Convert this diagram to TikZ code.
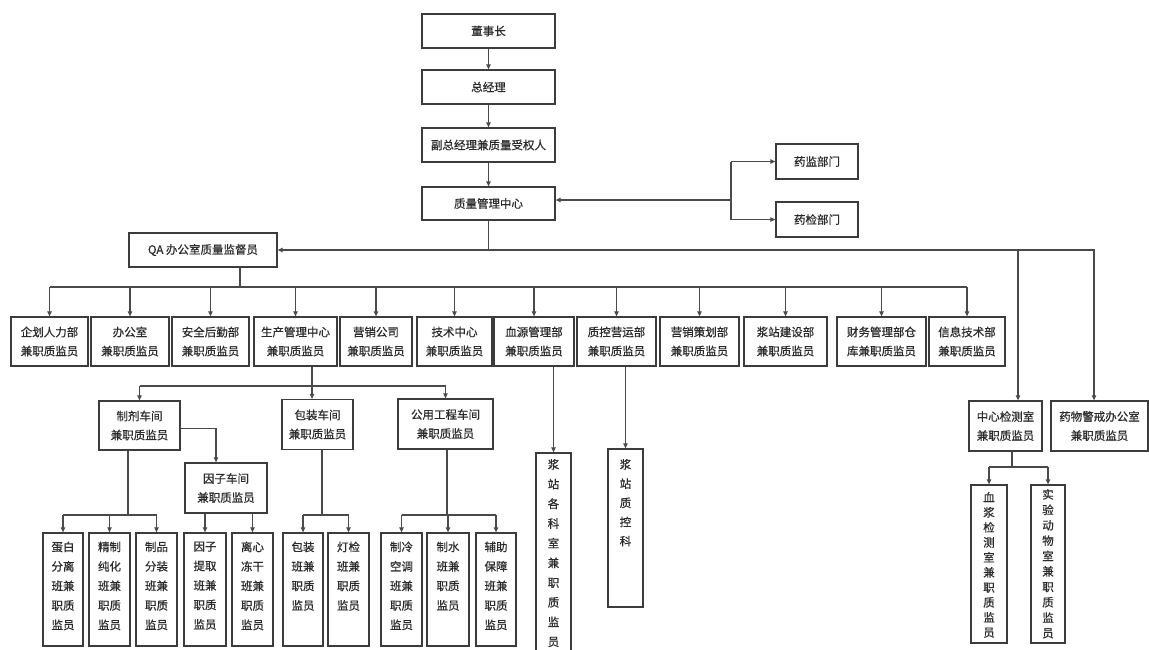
\documentclass[tikz,border=0pt]{standalone}
\usepackage{fontspec}
\newfontfamily\cjk[FakeBold=0.5]{Noto Sans CJK SC}
\usetikzlibrary{arrows.meta,calc}
\definecolor{boxc}{HTML}{3C3C3C}
\definecolor{linec}{HTML}{4A4A4A}
\definecolor{txt}{HTML}{2A2A2A}
\begin{document}
\begin{tikzpicture}[x=1pt,y=-1pt,
  box/.style={draw=boxc, line width=1.3pt, fill=white, inner sep=0pt, align=center, text=txt,
    font=\cjk\fontsize{11.5}{19}\selectfont},
  vtxt/.style={inner sep=0pt, align=center, anchor=north, text=txt},
  conn/.style={draw=linec, line width=1.1pt},
  arr/.style={conn, -{Triangle[length=5pt,width=4.5pt]}}]
\useasboundingbox (0,0) rectangle (1149,649);
\clip (0,0) rectangle (1149,649);
\fill[white] (0,0) rectangle (1149,649);

% top chain
\node[box,minimum width=133pt,minimum height=34pt] (dsz) at (488.5,31) {董事长};
\node[box,minimum width=133pt,minimum height=34pt] (zjl) at (488.5,87) {总经理};
\node[box,minimum width=133pt,minimum height=34pt] (fz) at (488.5,145) {副总经理兼质量受权人};
\node[box,minimum width=133pt,minimum height=33pt] (zl) at (488.5,203.5) {质量管理中心};
\node[box,minimum width=82pt,minimum height=35pt] (yj) at (817,161.5) {药监部门};
\node[box,minimum width=82pt,minimum height=35pt] (yjj) at (817,219.5) {药检部门};
\node[box,minimum width=148pt,minimum height=34pt] (qa) at (203,250) {QA 办公室质量监督员};

\draw[arr] (dsz) -- (zjl);
\draw[arr] (zjl) -- (fz);
\draw[arr] (fz) -- (zl);
\coordinate (j1) at (731,200);
\draw[arr] (j1) -- (j1 -| zl.east);
\draw[conn] (j1 |- yj.west) -- (j1 |- yjj.west);
\draw[arr] (j1 |- yj.west) -- (yj.west);
\draw[arr] (j1 |- yjj.west) -- (yjj.west);

% row 1
\node[box,minimum width=77pt,minimum height=49pt] (qh) at (49.5,341.5) {企划人力部\\兼职质监员};
\node[box,minimum width=78pt,minimum height=49pt] (bgs) at (130,341.5) {办公室\\兼职质监员};
\node[box,minimum width=77pt,minimum height=49pt] (aq) at (210.5,341.5) {安全后勤部\\兼职质监员};
\node[box,minimum width=83pt,minimum height=49pt] (sc) at (295.5,341.5) {生产管理中心\\兼职质监员};
\node[box,minimum width=72pt,minimum height=49pt] (yx) at (376,341.5) {营销公司\\兼职质监员};
\node[box,minimum width=75pt,minimum height=49pt] (js) at (454.5,341.5) {技术中心\\兼职质监员};
\node[box,minimum width=80pt,minimum height=49pt] (xy) at (534,341.5) {血源管理部\\兼职质监员};
\node[box,minimum width=79pt,minimum height=49pt] (zk) at (616.5,341.5) {质控营运部\\兼职质监员};
\node[box,minimum width=79pt,minimum height=49pt] (ych) at (699.5,341.5) {营销策划部\\兼职质监员};
\node[box,minimum width=83pt,minimum height=49pt] (jzj) at (785.5,341.5) {浆站建设部\\兼职质监员};
\node[box,minimum width=89pt,minimum height=49pt] (cw) at (881.5,341.5) {财务管理部仓\\库兼职质监员};
\node[box,minimum width=76pt,minimum height=49pt] (xx) at (967,341.5) {信息技术部\\兼职质监员};

\node[box,minimum width=73pt,minimum height=50pt] (zx) at (1005.5,426) {中心检测室\\兼职质监员};
\node[box,minimum width=97pt,minimum height=50pt] (ywj) at (1099.5,426) {药物警戒办公室\\兼职质监员};

% top bus
\coordinate (b1) at (488.5,250);
\coordinate (tzx) at (1018,250);
\coordinate (tyw) at (1094,250);
\draw[conn] (zl.south) -- (b1);
\draw[arr] (b1) -- (qa.east);
\draw[arr] (b1) -- (tyw) -- (tyw |- ywj.north);
\draw[arr] (tzx) -- (tzx |- zx.north);

% second bus
\coordinate (q1) at (240,287);
\draw[conn] (q1 |- qa.south) -- (q1);
\draw[conn] (qh.north |- q1) -- (xx.north |- q1);
\foreach \n in {qh,bgs,aq,sc,yx,js,xy,zk,ych,jzj,cw,xx}
  \draw[arr] (\n.north |- q1) -- (\n.north);

% production workshops
\node[box,minimum width=81pt,minimum height=49pt] (zj) at (139.5,425.5) {制剂车间\\兼职质监员};
\node[box,minimum width=82pt,minimum height=50pt] (yz) at (226,488) {因子车间\\兼职质监员};
\node[box,minimum width=71pt,minimum height=50pt] (bz) at (317.5,424.5) {包装车间\\兼职质监员};
\node[box,minimum width=95pt,minimum height=50pt] (gy) at (445.5,424) {公用工程车间\\兼职质监员};

\coordinate (c1) at (312,386);
\draw[conn] (c1 |- sc.south) -- (c1);
\draw[conn] (zj.north |- c1) -- (gy.north |- c1);
\draw[arr] (zj.north |- c1) -- (zj.north);
\draw[arr] (c1) -- (c1 |- bz.north);
\draw[arr] (gy.north |- c1) -- (gy.north);
\draw[arr] ($(zj.east)+(0,3)$) -| ($(yz.north)+(-10,0)$);

% bottom boxes
\foreach \n/\x/\w in {db/63/40, jz/109.5/41, zp/156.5/41, yt/205/42, lx/252.5/41,
    bzb/303/40, djb/348.5/41, zlk/401.5/41, zsb/448/42, fzb/496/40}
  \node[box,minimum width=\w pt,minimum height=113pt] (\n) at (\x,589.5) {};

\tikzset{btxt/.style={vtxt, font=\cjk\fontsize{11.5}{19.5}\selectfont}}
\node[btxt] (dbt) at ($(db.north)+(0,9)$) {蛋白\\分离\\班兼\\职质\\监员};
\node[btxt] (jzt) at ($(jz.north)+(0,9)$) {精制\\纯化\\班兼\\职质\\监员};
\node[btxt] (zpt) at ($(zp.north)+(0,9)$) {制品\\分装\\班兼\\职质\\监员};
\node[btxt] (ytt) at ($(yt.north)+(0,9)$) {因子\\提取\\班兼\\职质\\监员};
\node[btxt] (lxt) at ($(lx.north)+(0,9)$) {离心\\冻干\\班兼\\职质\\监员};
\node[btxt] (bzbt) at ($(bzb.north)+(0,9)$) {包装\\班兼\\职质\\监员};
\node[btxt] (djbt) at ($(djb.north)+(0,9)$) {灯检\\班兼\\职质\\监员};
\node[btxt] (zlkt) at ($(zlk.north)+(0,9)$) {制冷\\空调\\班兼\\职质\\监员};
\node[btxt] (zsbt) at ($(zsb.north)+(0,9)$) {制水\\班兼\\职质\\监员};
\node[btxt] (fzbt) at ($(fzb.north)+(0,9)$) {辅助\\保障\\班兼\\职质\\监员};

\coordinate (c2) at (128,515);
\draw[conn] (c2 |- zj.south) -- (c2);
\draw[conn] (db.north |- c2) -- (zp.north |- c2);
\foreach \n in {db,jz,zp} \draw[arr] (\n.north |- c2) -- (\n.north);
\draw[arr] (yt.north |- yz.south) -- (yt.north);
\draw[arr] (lx.north |- yz.south) -- (lx.north);

\coordinate (c4) at (322,515);
\draw[conn] (c4 |- bz.south) -- (c4);
\draw[conn] (bzb.north |- c4) -- (djb.north |- c4);
\foreach \n in {bzb,djb} \draw[arr] (\n.north |- c4) -- (\n.north);

\coordinate (c5) at (447,515);
\draw[conn] (c5 |- gy.south) -- (c5);
\draw[conn] (zlk.north |- c5) -- (fzb.north |- c5);
\foreach \n in {zlk,zsb,fzb} \draw[arr] (\n.north |- c5) -- (\n.north);

% plasma station boxes
\node[box,minimum width=35pt,minimum height=207pt] (jzk) at (553.5,556.5) {};
\node[vtxt, font=\cjk\fontsize{11.5}{19.7}\selectfont] (jzkt) at ($(jzk.north)+(0,6.5)$)
  {浆\\站\\各\\科\\室\\兼\\职\\质\\监\\员};
\node[box,minimum width=35pt,minimum height=158pt] (jzz) at (625.5,528) {};
\node[vtxt, font=\cjk\fontsize{11.5}{19.2}\selectfont] (jzzt) at ($(jzz.north)+(0,10.5)$)
  {浆\\站\\质\\控\\科};
\draw[arr] (jzk.north |- xy.south) -- (jzk.north);
\draw[arr] (jzz.north |- zk.south) -- (jzz.north);

% central testing lab children
\node[box,minimum width=36pt,minimum height=158pt] (xj) at (989,564) {};
\node[vtxt, font=\cjk\fontsize{11.5}{15}\selectfont] (xjt) at ($(xj.north)+(0,7.5)$)
  {血\\浆\\检\\测\\室\\兼\\职\\质\\监\\员};
\node[box,minimum width=34pt,minimum height=158pt] (sy) at (1048,564) {};
\node[vtxt, font=\cjk\fontsize{11.5}{15.4}\selectfont] (syt) at ($(sy.north)+(0,4.5)$)
  {实\\验\\动\\物\\室\\兼\\职\\质\\监\\员};
\coordinate (c3) at (1012,467);
\draw[conn] (c3 |- zx.south) -- (c3);
\draw[conn] (xj.north |- c3) -- (sy.north |- c3);
\draw[arr] (xj.north |- c3) -- (xj.north);
\draw[arr] (sy.north |- c3) -- (sy.north);
\end{tikzpicture}
\end{document}
